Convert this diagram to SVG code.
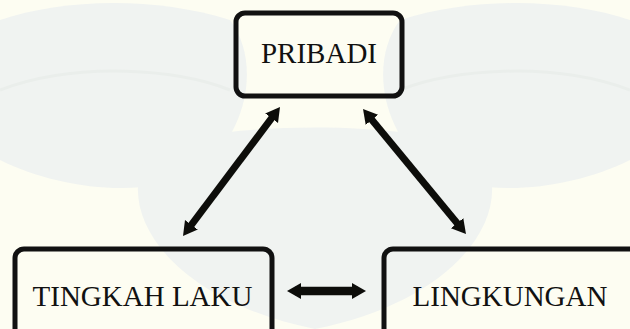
<svg xmlns="http://www.w3.org/2000/svg" width="630" height="329" viewBox="0 0 630 329">
<style>
.box{fill:none;stroke:#111;stroke-width:5}
.lbl{font-family:"Liberation Serif","Times New Roman",serif;font-size:29px;fill:#111;text-anchor:middle}
.arr{stroke:#0d0d0a;fill:none;marker-start:url(#ah);marker-end:url(#ah)}
.wm{fill:#f0f3f1}
.wl{fill:none;stroke:#eaeeeb;stroke-width:3}
</style>
<defs>
<marker id="ah" markerUnits="userSpaceOnUse" markerWidth="18" markerHeight="18" refX="6" refY="8" orient="auto-start-reverse">
<path d="M0,0 L14,8 L0,16 Z" fill="#0d0d0a"/>
</marker>
</defs>
<rect x="0" y="0" width="630" height="329" fill="#fdfdf2"/>
<g id="watermark">
<path class="wm" d="M0,20 C60,0 150,-5 230,20 C260,60 250,130 200,170 C150,200 60,190 0,160 Z"/>
<path class="wm" d="M630,20 C570,0 480,-5 400,20 C370,60 380,130 430,170 C480,200 570,190 630,160 Z"/>
<path class="wm" d="M150,150 C220,120 410,120 480,150 C520,210 460,300 315,329 C170,300 110,210 150,150 Z"/>
<path class="wl" d="M0,90 C80,60 180,70 230,90"/>
<path class="wl" d="M630,90 C550,60 450,70 400,90"/>
</g>
<g id="connectors">
<line class="arr" x1="275.2" y1="113.4" x2="187.8" y2="229.6" stroke-width="7"/>
<line class="arr" x1="368.1" y1="115.2" x2="460.9" y2="227.8" stroke-width="7"/>
<line class="arr" x1="295" y1="291" x2="358" y2="291" stroke-width="8.5"/>
</g>
<g id="pribadi">
<rect class="box" x="236" y="13" width="166" height="83" rx="9"/>
<text class="lbl" x="319" y="63">PRIBADI</text>
</g>
<g id="tingkah-laku">
<rect class="box" x="15" y="249" width="257" height="100" rx="9"/>
<text class="lbl" x="142.5" y="306">TINGKAH LAKU</text>
</g>
<g id="lingkungan">
<rect class="box" x="384" y="249" width="260" height="100" rx="9"/>
<text class="lbl" x="510" y="306">LINGKUNGAN</text>
</g>
</svg>
